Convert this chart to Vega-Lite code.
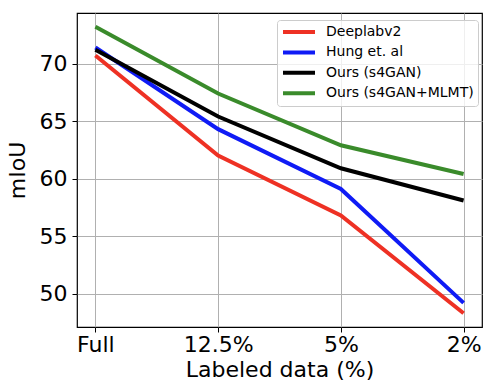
{
  "$schema": "https://vega.github.io/schema/vega-lite/v6.json",
  "autosize": {"type": "none"},
  "width": 405,
  "height": 314,
  "padding": {"left": 77, "top": 13, "right": 1, "bottom": 58},
  "background": "white",
  "config": {
    "font": "DejaVu Sans",
    "view": {"stroke": "#000000", "strokeWidth": 1.2},
    "axis": {
      "domain": false,
      "grid": true,
      "gridColor": "#b0b0b0",
      "gridWidth": 1,
      "tickColor": "#000000",
      "tickSize": 5,
      "tickWidth": 1,
      "labelFont": "DejaVu Sans",
      "labelFontSize": 22,
      "labelColor": "#000000",
      "titleFont": "DejaVu Sans",
      "titleFontSize": 22,
      "titleFontWeight": "normal",
      "titleColor": "#000000"
    }
  },
  "data": {
    "values": [
      {"labeled": "Full", "method": "Deeplabv2", "miou": 70.7},
      {"labeled": "12.5%", "method": "Deeplabv2", "miou": 62.0},
      {"labeled": "5%", "method": "Deeplabv2", "miou": 56.8},
      {"labeled": "2%", "method": "Deeplabv2", "miou": 48.3},
      {"labeled": "Full", "method": "Hung et. al", "miou": 71.4},
      {"labeled": "12.5%", "method": "Hung et. al", "miou": 64.3},
      {"labeled": "5%", "method": "Hung et. al", "miou": 59.1},
      {"labeled": "2%", "method": "Hung et. al", "miou": 49.2},
      {"labeled": "Full", "method": "Ours (s4GAN)", "miou": 71.2},
      {"labeled": "12.5%", "method": "Ours (s4GAN)", "miou": 65.4},
      {"labeled": "5%", "method": "Ours (s4GAN)", "miou": 60.9},
      {"labeled": "2%", "method": "Ours (s4GAN)", "miou": 58.1},
      {"labeled": "Full", "method": "Ours (s4GAN+MLMT)", "miou": 73.2},
      {"labeled": "12.5%", "method": "Ours (s4GAN+MLMT)", "miou": 67.4},
      {"labeled": "5%", "method": "Ours (s4GAN+MLMT)", "miou": 62.9},
      {"labeled": "2%", "method": "Ours (s4GAN+MLMT)", "miou": 60.4}
    ]
  },
  "mark": {"type": "line", "strokeWidth": 4, "strokeCap": "butt", "strokeJoin": "miter"},
  "encoding": {
    "x": {
      "field": "labeled",
      "type": "ordinal",
      "sort": ["Full", "12.5%", "5%", "2%"],
      "scale": {"type": "point", "padding": 0.15},
      "axis": {"title": "Labeled data (%)", "labelAngle": 0, "labelPadding": 2, "titlePadding": 4}
    },
    "y": {
      "field": "miou",
      "type": "quantitative",
      "scale": {"domain": [47.1, 74.4], "nice": false, "zero": false},
      "axis": {"title": "mIoU", "values": [50, 55, 60, 65, 70], "labelPadding": 5, "titlePadding": 10}
    },
    "color": {
      "field": "method",
      "type": "nominal",
      "scale": {
        "domain": ["Deeplabv2", "Hung et. al", "Ours (s4GAN)", "Ours (s4GAN+MLMT)"],
        "range": ["#ee3124", "#0f1bf5", "#000000", "#3a8b2b"]
      },
      "legend": {
        "title": null,
        "orient": "none",
        "legendX": 200,
        "legendY": 7,
        "symbolType": "stroke",
        "symbolSize": 1024,
        "symbolStrokeWidth": 4,
        "clipHeight": 16,
        "rowPadding": 4.4,
        "labelOffset": 9,
        "labelFontSize": 14,
        "labelFont": "DejaVu Sans",
        "labelColor": "#000000",
        "labelLimit": 300,
        "padding": 4,
        "fillColor": "rgba(255,255,255,0.8)",
        "strokeColor": "#cccccc",
        "cornerRadius": 3
      }
    }
  }
}
